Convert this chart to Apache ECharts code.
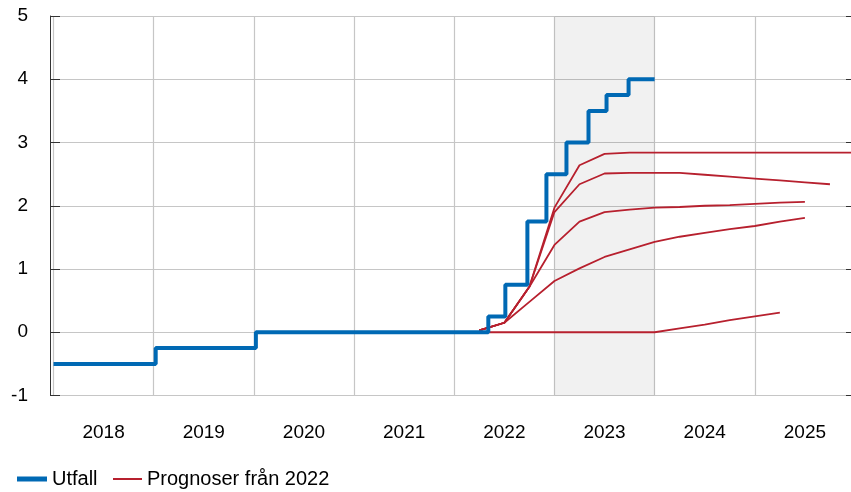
<!DOCTYPE html>
<html>
<head>
<meta charset="utf-8">
<script src="https://cdn.jsdelivr.net/npm/echarts@6/dist/echarts.min.js"></script>
<style>
  html, body { margin: 0; padding: 0; background: #fff; }
  #chart { width: 851px; height: 492px; }
</style>
</head>
<body>
<div id="chart"></div>
<script>
// Year labels on the x axis
const years = ['2018', '2019', '2020', '2021', '2022', '2023', '2024', '2025'];

// Outcome (policy rate), change dates as decimal years
const utfallDates = [2018.0, 2019.02, 2020.02, 2022.34, 2022.51, 2022.73, 2022.92, 2023.12, 2023.34, 2023.52, 2023.74, 2024.0];
const utfallRate = [-0.5, -0.25, 0, 0.25, 0.75, 1.75, 2.5, 3.0, 3.5, 3.75, 4.0, 4.0];

// Forecast quarters
const fcDates = [2022.25, 2022.5, 2022.75, 2023.0, 2023.25, 2023.5, 2023.75, 2024.0,
                 2024.25, 2024.5, 2024.75, 2025.0, 2025.25, 2025.5, 2025.75, 2026.0];

// Forecasts from 2022 (one array per report)
const fcFeb = [0, 0, 0, 0, 0, 0, 0, 0, 0.06, 0.12, 0.19, 0.25, 0.31, null, null, null];
const fcApr = [0.03, 0.15, 0.48, 0.81, 1.01, 1.19, 1.31, 1.43, 1.51, 1.57, 1.63, 1.68, 1.75, 1.81, null, null];
const fcJun = [0.03, 0.15, 0.72, 1.38, 1.75, 1.90, 1.94, 1.97, 1.98, 2.00, 2.01, 2.03, 2.05, 2.06, null, null];
const fcSep = [0.03, 0.15, 0.72, 1.90, 2.34, 2.51, 2.52, 2.52, 2.52, 2.49, 2.46, 2.43, 2.40, 2.37, 2.34, null];
const fcNov = [0.03, 0.15, 0.72, 1.97, 2.64, 2.82, 2.84, 2.84, 2.84, 2.84, 2.84, 2.84, 2.84, 2.84, 2.84, 2.84];

// Shaded period
const shadeFrom = 2023;
const shadeTo = 2024;

const blue = '#0069b4';
const red = '#b7202e';
const fontFamily = '"Liberation Sans", Arial, sans-serif';

const pair = (xs, ys) => xs.map((x, i) => [x, ys[i]]).filter(p => p[1] !== null);

const chart = echarts.init(document.getElementById('chart'));

const forecastSeries = [fcFeb, fcApr, fcJun, fcSep, fcNov].map((values, i) => ({
  name: 'Prognoser från 2022',
  type: 'line',
  xAxisIndex: 0,
  data: pair(fcDates, values),
  showSymbol: false,
  lineStyle: { color: red, width: 1.8 },
  itemStyle: { color: red },
  z: 3,
  markArea: i === 0 ? {
    silent: true,
    itemStyle: { color: 'rgba(0,0,0,0.055)' },
    data: [[{ xAxis: shadeFrom }, { xAxis: shadeTo }]]
  } : undefined
}));

const gridColor = '#c6c6c6';

const option = {
  animation: false,
  grid: { left: 53.5, right: -4, top: 16, bottom: 96.5, outerBoundsMode: 'none' },
  legend: [
    {
      left: 12, top: 464,
      icon: 'rect',
      itemWidth: 30, itemHeight: 5,
      textStyle: { fontFamily, fontSize: 20, color: '#000' },
      data: ['Utfall']
    },
    {
      left: 108, top: 464,
      icon: 'rect',
      itemWidth: 29, itemHeight: 2,
      textStyle: { fontFamily, fontSize: 20, color: '#000' },
      data: ['Prognoser från 2022']
    }
  ],
  xAxis: [
    {
      type: 'value',
      min: 2018, max: 2026,
      show: false
    },
    {
      type: 'category',
      data: years,
      boundaryGap: true,
      position: 'bottom',
      axisLine: { show: false },
      axisTick: { show: false },
      axisLabel: { fontFamily, fontSize: 19, color: '#000', margin: 28 },
      splitLine: { show: true, interval: 0, lineStyle: { color: gridColor, width: 1.2 } }
    }
  ],
  yAxis: [
    {
      type: 'value',
      min: -1, max: 5, interval: 1,
      offset: 3.5,
      axisLine: { show: true, lineStyle: { color: '#333', width: 1 } },
      axisTick: { show: true, inside: true, length: 10, lineStyle: { color: '#333' } },
      axisLabel: { fontFamily, fontSize: 19, color: '#000', margin: 22 },
      splitLine: { show: true, lineStyle: { color: gridColor, width: 1.2 } }
    },
    {
      type: 'value',
      position: 'right',
      min: -1, max: 5, interval: 1,
      axisLine: { show: false },
      axisTick: { show: true, inside: true, length: 9, lineStyle: { color: '#333' } },
      axisLabel: { show: false },
      splitLine: { show: false }
    }
  ],
  series: [
    ...forecastSeries,
    {
      name: 'Utfall',
      type: 'line',
      xAxisIndex: 0,
      step: 'end',
      data: pair(utfallDates, utfallRate),
      showSymbol: false,
      lineStyle: { color: blue, width: 4 },
      itemStyle: { color: blue },
      z: 4
    }
  ]
};

chart.setOption(option);
</script>
</body>
</html>
